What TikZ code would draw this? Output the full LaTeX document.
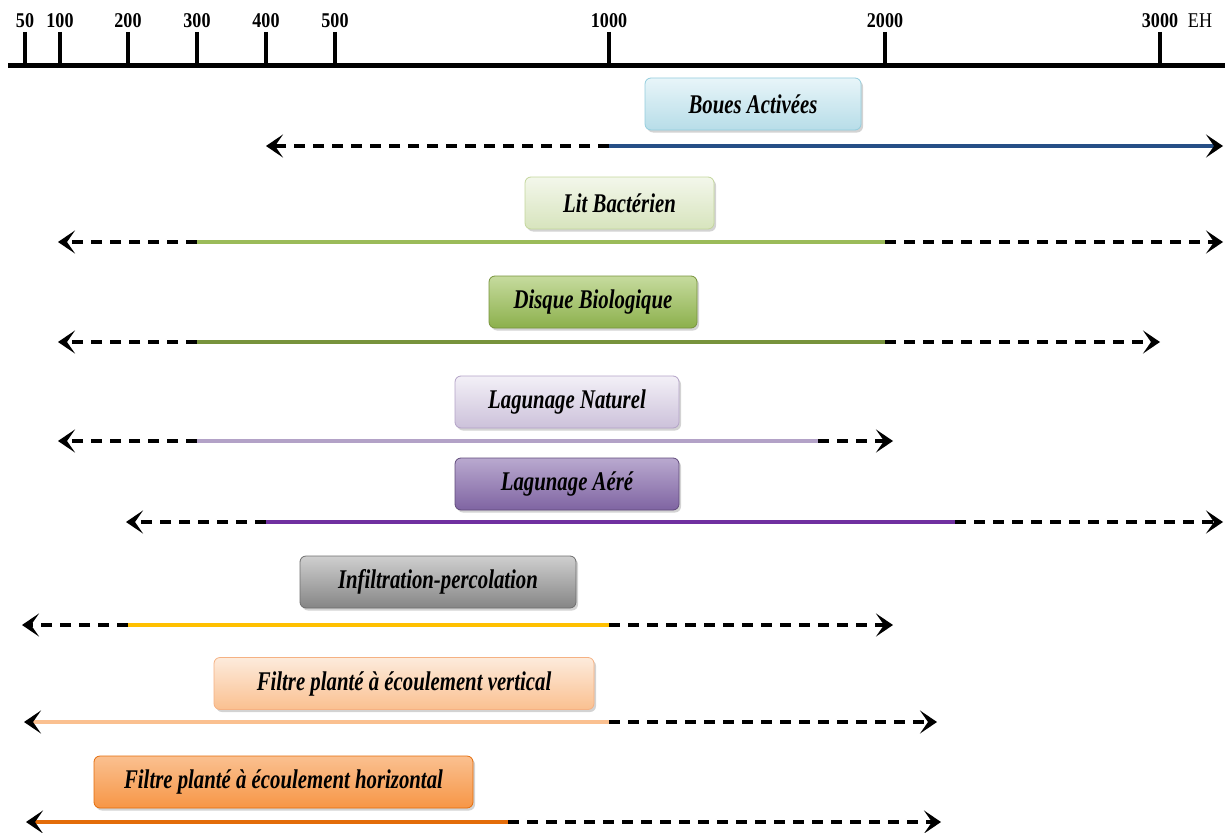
\documentclass[tikz,border=0pt]{standalone}
\usepackage{fontspec}
\setmainfont{Liberation Serif}
\usetikzlibrary{arrows.meta,shadows}
\definecolor{baTop}{HTML}{E8F5F9}\definecolor{baBot}{HTML}{B7DDE8}\definecolor{baDr}{HTML}{93CDDD}\definecolor{baLn}{HTML}{264F86}
\definecolor{lbTop}{HTML}{F3F7EB}\definecolor{lbBot}{HTML}{D7E4BD}\definecolor{lbDr}{HTML}{C3D69B}\definecolor{lbLn}{HTML}{9BBB59}
\definecolor{dbTop}{HTML}{C6DB9E}\definecolor{dbBot}{HTML}{8CB04C}\definecolor{dbDr}{HTML}{77933C}\definecolor{dbLn}{HTML}{77933C}
\definecolor{lnTop}{HTML}{F3F0F7}\definecolor{lnBot}{HTML}{CCC1DA}\definecolor{lnDr}{HTML}{B3A2C7}\definecolor{lnLn}{HTML}{B3A2C7}
\definecolor{laTop}{HTML}{B9A9CF}\definecolor{laBot}{HTML}{7F64A2}\definecolor{laDr}{HTML}{604A7B}\definecolor{laLn}{HTML}{7030A0}
\definecolor{ipTop}{HTML}{CFCFCF}\definecolor{ipBot}{HTML}{858585}\definecolor{ipDr}{HTML}{6E6E6E}\definecolor{ipLn}{HTML}{FFC000}
\definecolor{fvTop}{HTML}{FDEBDC}\definecolor{fvBot}{HTML}{FAC090}\definecolor{fvDr}{HTML}{F5B183}\definecolor{fvLn}{HTML}{FAC090}
\definecolor{fhTop}{HTML}{FAC090}\definecolor{fhBot}{HTML}{F79646}\definecolor{fhDr}{HTML}{E46C0A}\definecolor{fhLn}{HTML}{E36C09}
\newcommand{\axtxt}[1]{\scalebox{0.86}[1]{#1}}
\newcommand{\boxtxt}[1]{\scalebox{0.77}[1]{#1}}
\begin{document}
\begin{tikzpicture}[x=1pt,y=-1pt,
  tiplab/.style={font=\fontsize{21}{22}\selectfont\bfseries, inner sep=0pt},
  lbox/.style n args={3}{rounded corners=6pt, draw=#3, line width=0.8pt,
     top color=#1, bottom color=#2, minimum height=52pt, inner sep=0pt,
     font=\fontsize{27}{28}\selectfont\bfseries\itshape,
     drop shadow={shadow xshift=2pt, shadow yshift=-2.5pt, opacity=0.35}},
  tipk/.style={-{Stealth[length=17pt,width=23pt,inset=8pt,black]}},
  dashline/.style={line width=4pt, black, dash pattern=on 11pt off 8pt, tipk},
  solidline/.style={line width=4.5pt, draw=#1}
]
\useasboundingbox (0,0) rectangle (1225,832);
% axis
\coordinate (ax0) at (8,66);
\coordinate (ax1) at (1225,66);
\draw[line width=5pt] (ax0) -- (ax1);
\foreach \v/\x in {50/25,100/60,200/128,300/197,400/266,500/335,1000/609,2000/885,3000/1160}{
  \node[tiplab] (l\v) at (\x,20.5) {\axtxt{\v}};
  \coordinate (tt\v) at (\x,32);
  \coordinate (tb\v) at (\x,66);
  \draw[line width=4pt] (tt\v) -- (tb\v);
}
\node[font=\fontsize{21}{22}\selectfont, inner sep=0pt] (eh) at (1200,20.5) {\axtxt{EH}};

% Boues Activees
\node[lbox={baTop}{baBot}{baDr}, minimum width=216pt] (ba) at (753,104) {\boxtxt{Boues Activées}};
\coordinate (baL) at (266,146); \coordinate (baM) at (609,146); \coordinate (baR) at (1223,146);
\draw[dashline] (baM) -- (baL);
\draw[solidline=baLn, tipk] (baM) -- (baR);

% Lit Bacterien
\node[lbox={lbTop}{lbBot}{lbDr}, minimum width=189pt] (lb) at (619.5,203) {\boxtxt{Lit Bactérien}};
\coordinate (lbL) at (58,242); \coordinate (lbA) at (197,242); \coordinate (lbB) at (885,242); \coordinate (lbR) at (1223,242);
\draw[dashline] (lbA) -- (lbL);
\draw[solidline=lbLn] (lbA) -- (lbB);
\draw[dashline] (lbB) -- (lbR);

% Disque Biologique
\node[lbox={dbTop}{dbBot}{dbDr}, minimum width=208pt] (db) at (593,302) {\boxtxt{Disque Biologique}};
\coordinate (dbL) at (58,342); \coordinate (dbA) at (197,342); \coordinate (dbB) at (885,342); \coordinate (dbR) at (1160,342);
\draw[dashline] (dbA) -- (dbL);
\draw[solidline=dbLn] (dbA) -- (dbB);
\draw[dashline] (dbB) -- (dbR);

% Lagunage Naturel
\node[lbox={lnTop}{lnBot}{lnDr}, minimum width=224pt] (ln) at (567,402) {\boxtxt{Lagunage Naturel}};
\coordinate (lnL) at (58,441); \coordinate (lnA) at (197,441); \coordinate (lnB) at (818,441); \coordinate (lnR) at (893,441);
\draw[dashline] (lnA) -- (lnL);
\draw[solidline=lnLn] (lnA) -- (lnB);
\draw[dashline] (lnB) -- (lnR);

% Lagunage Aere
\node[lbox={laTop}{laBot}{laDr}, minimum width=224pt] (la) at (567,484) {\boxtxt{Lagunage Aéré}};
\coordinate (laL) at (126,522); \coordinate (laA) at (266,522); \coordinate (laB) at (955,522); \coordinate (laR) at (1223,522);
\draw[dashline] (laA) -- (laL);
\draw[solidline=laLn] (laA) -- (laB);
\draw[dashline] (laB) -- (laR);

% Infiltration-percolation
\node[lbox={ipTop}{ipBot}{ipDr}, minimum width=276pt] (ip) at (438,582) {\boxtxt{Infiltration-percolation}};
\coordinate (ipL) at (22,625); \coordinate (ipA) at (128,625); \coordinate (ipB) at (609,625); \coordinate (ipR) at (893,625);
\draw[dashline] (ipA) -- (ipL);
\draw[solidline=ipLn] (ipA) -- (ipB);
\draw[dashline] (ipB) -- (ipR);

% Filtre vertical
\node[lbox={fvTop}{fvBot}{fvDr}, minimum width=380pt] (fv) at (404,683.5) {\boxtxt{Filtre planté à écoulement vertical}};
\coordinate (fvL) at (24,722); \coordinate (fvA) at (609,722); \coordinate (fvR) at (937,722);
\draw[solidline=fvLn, tipk] (fvA) -- (fvL);
\draw[dashline] (fvA) -- (fvR);

% Filtre horizontal
\node[lbox={fhTop}{fhBot}{fhDr}, minimum width=379pt] (fh) at (283.5,782) {\boxtxt{Filtre planté à écoulement horizontal}};
\coordinate (fhL) at (26,822); \coordinate (fhA) at (508,822); \coordinate (fhR) at (941,822);
\draw[solidline=fhLn, tipk] (fhA) -- (fhL);
\draw[dashline] (fhA) -- (fhR);
\end{tikzpicture}
\end{document}
